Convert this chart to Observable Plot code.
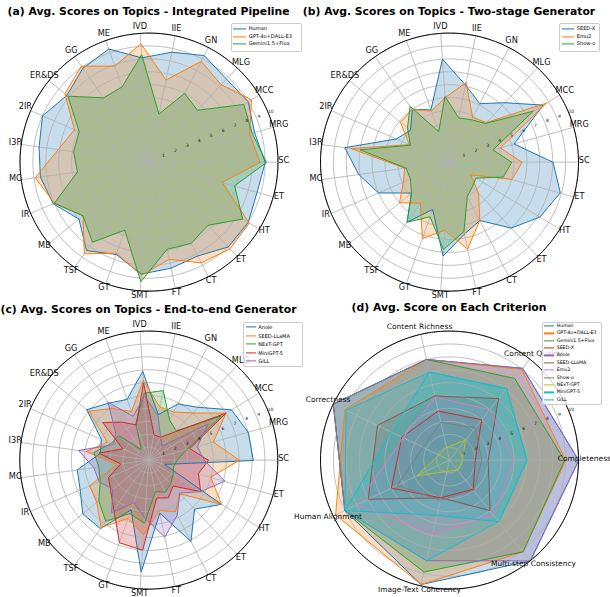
<!DOCTYPE html>
<html><head><meta charset="utf-8">
<script src="https://cdn.jsdelivr.net/npm/d3@7"></script>
<script src="https://cdn.jsdelivr.net/npm/@observablehq/plot@0.6"></script>
<style>
body{margin:0;background:#fff;font-family:"DejaVu Sans",sans-serif;}
#fig{position:relative;width:610px;height:597px;overflow:hidden;background:#fff;}
.panel{position:absolute;}
.panel svg{overflow:visible;}
.title{position:absolute;font-weight:bold;font-size:10.8px;white-space:nowrap;transform:translate(-50%,-50%);color:#000;}
.legend{position:absolute;background:rgba(255,255,255,0.8);border:0.7px solid #cccccc;border-radius:2px;box-sizing:border-box;}
.lrow{position:absolute;white-space:nowrap;color:#000;line-height:1;transform:translateY(-50%);}
.lh{position:absolute;height:1.2px;transform:translateY(-50%);}
</style></head>
<body><div id="fig"></div>
<script>
// ---------- data ----------
const topics = ["SC","MRG","MCC","MLG","GN","IIE","IVD","ME","GG","ER&DS","2IR","I3R","MC","IR","MB","TSF","GT","SMT","FT","CT","ET","HT","ET"];
const criteria = ["Completeness","Content Quality","Content Richness","Correctness","Human Alignment","Image-Text Coherency","Multi-step Consistency"];
const ringTicks = [1,2,3,4,5,6,7,8,9,10];

// (a) Integrated pipeline
const humanTopics  = [9.0,8.5,9.0,8.8,9.3,8.7,8.1,9.3,8.9,8.2,9.0,8.6,8.5,8.1,7.0,8.4,7.6,8.7,8.4,8.2,9.0,9.0,8.7];
const gptTopics    = [8.6,8.1,9.3,8.2,8.8,6.5,9.2,7.9,9.1,8.4,6.3,7.1,8.9,8.0,6.6,8.7,7.5,8.8,7.7,8.8,9.2,9.1,5.9];
const geminiTopics = [9.1,8.3,8.6,5.5,6.0,3.8,8.35,6.2,6.1,8.1,5.9,5.9,5.6,8.0,6.6,7.6,5.6,9.3,6.9,7.1,6.7,8.5,6.9];
// (b) Two-stage generator
const seedxTopics  = [8.0,5.2,8.5,6.3,5.1,6.1,8.0,4.3,5.0,3.9,4.5,8.2,7.1,6.0,3.8,5.7,3.9,7.3,5.7,5.1,7.0,8.2,8.9];
const emu2Topics   = [5.6,4.1,8.8,4.2,3.9,6.3,5.0,4.2,5.0,4.9,3.4,7.7,3.5,3.9,5.0,3.9,6.3,5.3,6.9,5.1,3.3,1.9,5.0];
const showoTopics  = [4.8,3.5,7.6,4.1,3.7,3.5,5.1,2.5,5.3,4.2,3.3,7.0,3.4,3.3,3.8,5.7,4.5,6.8,5.5,3.0,2.6,2.4,4.3];
// (c) End-to-end generator
const anoleTopics     = [8.1,8.0,7.5,5.6,4.9,3.6,6.9,5.0,5.4,6.2,4.0,3.8,5.6,5.8,6.6,6.5,4.1,8.7,4.2,7.1,5.2,6.6,1.3];
const seedllamaTopics = [7.0,5.2,7.0,5.0,4.2,4.2,6.2,4.0,4.9,6.0,3.5,4.9,2.5,5.0,5.2,6.4,4.8,5.8,4.0,4.5,3.6,6.6,5.0];
const nextgptTopics   = [2.2,3.1,6.6,3.1,3.5,5.5,5.2,3.0,1.0,3.0,3.2,4.3,3.9,4.1,5.0,5.8,4.4,4.9,2.5,2.8,2.5,2.2,2.0];
const minigptTopics   = [4.6,3.3,7.0,3.0,2.0,2.0,6.0,2.9,3.6,4.6,2.2,3.9,2.2,3.4,3.8,4.7,6.8,7.0,3.0,3.3,2.75,4.7,4.0];
const gillTopics      = [4.3,3.9,5.4,1.5,2.0,3.5,5.0,3.6,5.5,3.3,3.0,5.5,4.3,4.2,3.6,5.0,3.5,4.5,6.1,4.8,3.5,4.7,6.1];
// (d) criteria
const humanCrit     = [10,9.1,8.0,10,9.0,9.9,10];
const gptCrit       = [9.0,9.0,8.0,9.0,9.8,9.9,9.1];
const geminiCrit    = [8.9,8.1,8.0,10,9.0,8.9,9.1];
const seedxCrit     = [2.0,4.0,3.9,4.1,5.0,3.0,2.9];
const anoleCrit     = [10,9.1,8.0,10,9.0,8.0,10];
const seedllamaCrit = [3.0,6.1,5.1,6.2,7.0,3.0,5.0];
const emu2Crit      = [5.0,5.0,5.0,4.0,8.0,5.9,5.5];
const showoCrit     = [2.5,3.2,3.0,2.3,4.5,3.2,3.0];
const nextgptCrit   = [1.0,2.0,1.0,0.9,2.8,0.9,1.0];
const minigptCrit   = [6.0,7.1,7.0,5.0,9.0,4.4,6.1];
const gillCrit      = [6.0,7.1,7.0,8.9,9.0,8.0,6.1];

const tab = ["#1f77b4","#ff7f0e","#2ca02c","#d62728","#9467bd","#8c564b","#e377c2","#7f7f7f","#bcbd22","#17becf"];

// ---------- drawing ----------
const fig = document.getElementById("fig");
const K = 12.9, W = 305, H = 298;

function radar({cats, series, left, top, cx, cy, labelSize}) {
  const n = cats.length;
  const A = i => 2 * Math.PI * i / n;
  const ring = ringTicks.flatMap(r => d3.range(0, 360, 2).map(a => ({r, a: a * Math.PI / 180})));
  const spine = d3.range(0, 360, 1).map(a => a * Math.PI / 180);
  const px = (v, i) => v * Math.cos(A(i)), py = (v, i) => v * Math.sin(A(i));
  const marks = [];
  for (const s of series) marks.push(Plot.line(s.values, {x: px, y: py, curve: "linear-closed", fill: s.color, fillOpacity: 0.25, stroke: "none"}));
  marks.push(Plot.line(ring, {x: d => d.r * Math.cos(d.a), y: d => d.r * Math.sin(d.a), z: "r", curve: "linear-closed", stroke: "#b0b0b0", strokeWidth: 0.8}));
  marks.push(Plot.link(cats, {x1: 0, y1: 0, x2: (d, i) => 10 * Math.cos(A(i)), y2: (d, i) => 10 * Math.sin(A(i)), stroke: "#b0b0b0", strokeWidth: 0.8}));
  for (const s of series) marks.push(Plot.line(s.values, {x: px, y: py, curve: "linear-closed", stroke: s.color, strokeWidth: 1}));
  marks.push(Plot.line(spine, {x: a => 10 * Math.cos(a), y: a => 10 * Math.sin(a), curve: "linear-closed", stroke: "black", strokeWidth: 1}));
  marks.push(Plot.text(ringTicks, {x: r => (r + 0.22) * Math.cos(Math.PI / 8), y: r => (r + 0.22) * Math.sin(Math.PI / 8), text: r => String(r), fontSize: 4.5, fill: "#111", dy: -0.5}));
  marks.push(Plot.text(cats, {x: (d, i) => 10.45 * Math.cos(A(i)), y: (d, i) => 10.45 * Math.sin(A(i)), text: d => d, fontSize: labelSize, fill: "#111", dy: -1.6}));
  const svg = Plot.plot({
    width: W, height: H, margin: 0,
    x: {domain: [-cx / K, (W - cx) / K], axis: null},
    y: {domain: [-(H - cy) / K, cy / K], axis: null},
    style: {fontFamily: "DejaVu Sans", overflow: "visible", background: "transparent"},
    marks
  });
  const div = document.createElement("div");
  div.className = "panel";
  div.style.left = left + "px"; div.style.top = top + "px";
  div.appendChild(svg);
  fig.appendChild(div);
}

function title(text, x, y) {
  const d = document.createElement("div");
  d.className = "title"; d.textContent = text;
  d.style.left = x + "px"; d.style.top = y + "px";
  fig.appendChild(d);
}

function legend({series, x0, y0, x1, y1, rows, h0, h1, tx, fs}) {
  const box = document.createElement("div");
  box.className = "legend";
  Object.assign(box.style, {left: x0 + "px", top: y0 + "px", width: (x1 - x0) + "px", height: (y1 - y0) + "px"});
  fig.appendChild(box);
  series.forEach((s, i) => {
    const h = document.createElement("div");
    h.className = "lh";
    Object.assign(h.style, {left: h0 + "px", width: (h1 - h0) + "px", top: rows[i] + "px", background: s.color});
    fig.appendChild(h);
    const t = document.createElement("div");
    t.className = "lrow"; t.textContent = s.name;
    Object.assign(t.style, {left: tx + "px", top: rows[i] + "px", fontSize: fs + "px"});
    fig.appendChild(t);
  });
}

const sA = [
  {name: "Human", values: humanTopics, color: tab[0]},
  {name: "GPT-4o+DALL-E3", values: gptTopics, color: tab[1]},
  {name: "Gemini1.5+Flux", values: geminiTopics, color: tab[2]}
];
const sB = [
  {name: "SEED-X", values: seedxTopics, color: tab[0]},
  {name: "Emu2", values: emu2Topics, color: tab[1]},
  {name: "Show-o", values: showoTopics, color: tab[2]}
];
const sC = [
  {name: "Anole", values: anoleTopics, color: tab[0]},
  {name: "SEED-LLaMA", values: seedllamaTopics, color: tab[1]},
  {name: "NExT-GPT", values: nextgptTopics, color: tab[2]},
  {name: "MiniGPT-5", values: minigptTopics, color: tab[3]},
  {name: "GILL", values: gillTopics, color: tab[4]}
];
const sD = [
  {name: "Human", values: humanCrit, color: tab[0]},
  {name: "GPT-4o+DALL-E3", values: gptCrit, color: tab[1]},
  {name: "Gemini1.5+Flux", values: geminiCrit, color: tab[2]},
  {name: "SEED-X", values: seedxCrit, color: tab[3]},
  {name: "Anole", values: anoleCrit, color: tab[4]},
  {name: "SEED-LLaMA", values: seedllamaCrit, color: tab[5]},
  {name: "Emu2", values: emu2Crit, color: tab[6]},
  {name: "Show-o", values: showoCrit, color: tab[7]},
  {name: "NExT-GPT", values: nextgptCrit, color: tab[8]},
  {name: "MiniGPT-5", values: minigptCrit, color: tab[9]},
  {name: "GILL", values: gillCrit, color: tab[9]}
];

radar({cats: topics, series: sA, left: 0, top: 0, cx: 148.5, cy: 161.6, labelSize: 8.2});
radar({cats: topics, series: sB, left: 305, top: 0, cx: 144, cy: 161.6, labelSize: 8.2});
radar({cats: topics, series: sC, left: 0, top: 298, cx: 148.3, cy: 161.6, labelSize: 8.2});
radar({cats: criteria, series: sD, left: 305, top: 298, cx: 144, cy: 161.6, labelSize: 7.5});

title("(a) Avg. Scores on Topics - Integrated Pipeline", 148.6, 10.7);
title("(b) Avg. Scores on Topics - Two-stage Generator", 449, 10.7);
title("(c) Avg. Scores on Topics - End-to-end Generator", 148.5, 308.7);
title("(d) Avg. Score on Each Criterion", 449, 306.5);

legend({series: sA, x0: 230.7, y0: 22.7, x1: 301.7, y1: 51.7, rows: [29, 36.7, 44.2], h0: 233.3, h1: 246, tx: 248.7, fs: 5.1});
legend({series: sB, x0: 559, y0: 23.3, x1: 600, y1: 51.7, rows: [29, 36.7, 44.3], h0: 561.5, h1: 574.3, tx: 576.7, fs: 5.1});
legend({series: sC, x0: 243.3, y0: 322, x1: 302.7, y1: 367.3, rows: [327.3, 335.7, 344.2, 352.8, 361.3], h0: 246, h1: 256, tx: 258.3, fs: 5.0});
legend({series: sD, x0: 541.7, y0: 322, x1: 601.7, y1: 404.7, rows: d3.range(11).map(i => 326 + i * 7.37), h0: 544, h1: 554.3, tx: 556.7, fs: 4.7});
</script></body></html>
